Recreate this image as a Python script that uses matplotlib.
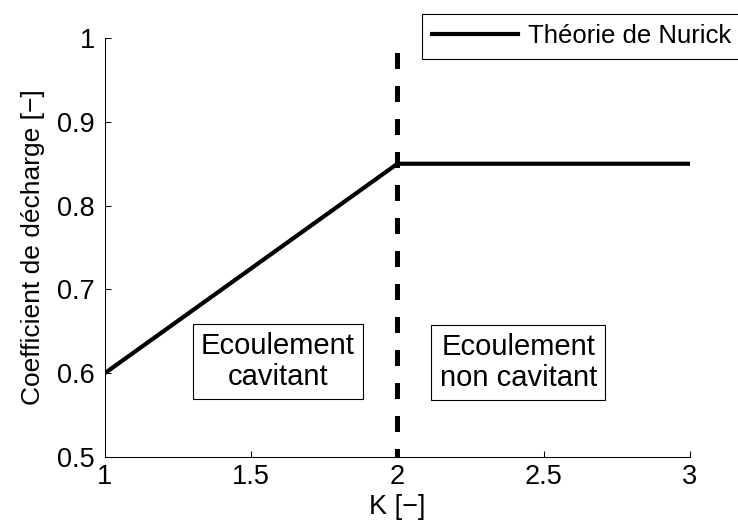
import matplotlib
matplotlib.use("Agg")
import matplotlib.pyplot as plt

plt.rcParams["font.family"] = ["Liberation Sans", "DejaVu Sans"]

# Nurick theory: linear rise in cavitating regime, constant beyond K = 2
k_values = [1.0, 2.0, 3.0]
cd_values = [0.6, 0.85, 0.85]
k_crit = 2.0

x_ticks = [1, 1.5, 2, 2.5, 3]
x_tick_labels = ["1", "1.5", "2", "2.5", "3"]
y_ticks = [0.5, 0.6, 0.7, 0.8, 0.9, 1.0]
y_tick_labels = ["0.5", "0.6", "0.7", "0.8", "0.9", "1"]

region_labels = ["Ecoulement\ncavitant", "Ecoulement\nnon cavitant"]
region_pos = [(1.592, 0.614), (2.413, 0.613)]

fig = plt.figure(figsize=(7.38, 5.25), dpi=100)
ax = fig.add_axes([0.142, 0.1295, 0.793, 0.798])

line, = ax.plot(k_values, cd_values, color="black", lw=3.0, label="Théorie de Nurick")
ax.plot([k_crit, k_crit], [0.5, 1.0], color="black", lw=3.6,
        linestyle=(1.5, (3.2, 3.4)), solid_capstyle="butt")

for txt, (x, y) in zip(region_labels, region_pos):
    ax.text(x, y, txt, ha="center", va="center", fontsize=21, linespacing=1.15,
            bbox=dict(boxstyle="square,pad=0.28", fc="white", ec="black", lw=0.8))

ax.set_xlim(1, 3)
ax.set_ylim(0.5, 1)
ax.set_xticks(x_ticks)
ax.set_xticklabels(x_tick_labels)
ax.set_yticks(y_ticks)
ax.set_yticklabels(y_tick_labels)
ax.tick_params(direction="in", length=4, width=0.75, labelsize=19.5)
ax.tick_params(axis="y", pad=7)
ax.tick_params(axis="x", pad=5)
ax.spines["top"].set_visible(False)
ax.spines["right"].set_visible(False)
for s in ("left", "bottom"):
    ax.spines[s].set_linewidth(0.75)

ax.set_xlabel("K [\u2212]", fontsize=19.5, labelpad=3)
ax.set_ylabel("Coefficient de décharge [\u2212]", fontsize=19, labelpad=9)

leg = fig.legend(handles=[line], loc="upper left", bbox_to_anchor=(422 / 738, 1 - 14 / 525),
                 bbox_transform=fig.transFigure, fontsize=18.5, fancybox=False,
                 edgecolor="black", framealpha=1, borderaxespad=0, handlelength=3.35,
                 borderpad=0.4, handletextpad=0.38)
leg.get_frame().set_linewidth(0.8)

fig.savefig("out.png", dpi=100)
